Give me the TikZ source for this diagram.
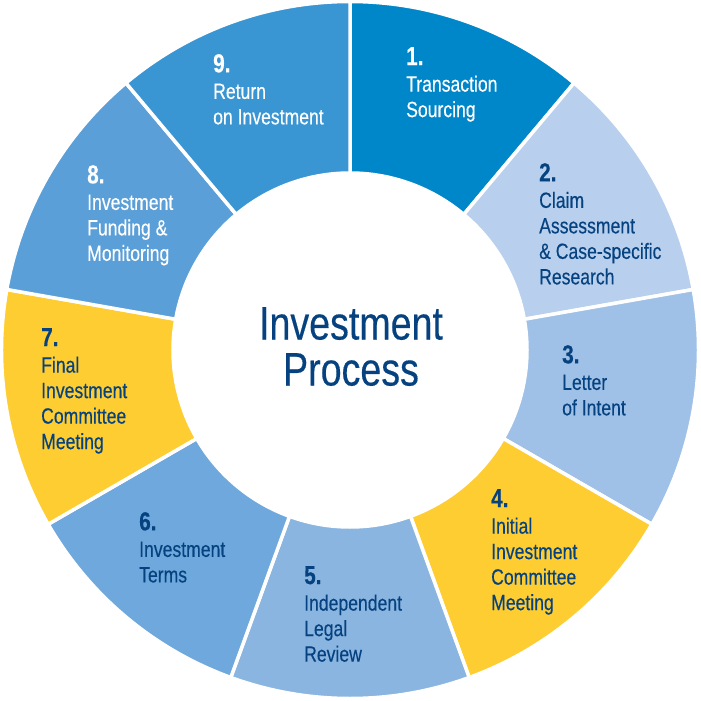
\documentclass[tikz,border=0pt]{standalone}
\usepackage{fontspec}
\newfontfamily\condfont[FakeStretch=0.8, FakeBold=0.3]{Liberation Sans}
\definecolor{seg1}{HTML}{0087CA}
\definecolor{seg2}{HTML}{B8D0ED}
\definecolor{seg3}{HTML}{9FC1E7}
\definecolor{seg4}{HTML}{FECD32}
\definecolor{seg5}{HTML}{8AB5E1}
\definecolor{seg6}{HTML}{6FA8DC}
\definecolor{seg7}{HTML}{FECD32}
\definecolor{seg8}{HTML}{5A9FD8}
\definecolor{seg9}{HTML}{3A95D3}
\definecolor{navy}{HTML}{05427F}
\newcommand\stepno[1]{{\fontsize{26}{25.5}\selectfont\bfseries #1}}
\begin{document}
\begin{tikzpicture}[x=1pt,y=1pt,
  segment/.style={draw=white, line width=3.5pt},
  steptext/.style={anchor=north west, align=left, inner sep=0pt, text=navy,
    font=\condfont\fontsize{22}{25.5}\selectfont},
  title/.style={anchor=north, align=center, inner sep=0pt, text=navy,
    font=\condfont\fontsize{47}{46}\selectfont}]

  \useasboundingbox (-350,-351) rectangle (351,350);

  % Ring segments, clockwise from the top
  \foreach \a/\c in {90/seg1, 50/seg2, 10/seg3, -30/seg4, -70/seg5,
                     -110/seg6, -150/seg7, -190/seg8, -230/seg9}
    \draw [segment, fill=\c] (\a:348.5) arc[start angle=\a, end angle=\a-40, radius=348.5]
      -- (\a-40:177) arc[start angle=\a-40, end angle=\a, radius=177] -- cycle;

  % Centre title
  \node [title] (title) at (1,43) {Investment\\Process};

  % Step texts
  \node [steptext, text=white] (s1) at (56,303) {\stepno{1.}\\[1pt]Transaction\\Sourcing};
  \node [steptext] (s2) at (189,187) {\stepno{2.}\\[1pt]Claim\\Assessment\\\& Case-specific\\Research};
  \node [steptext] (s3) at (212,5) {\stepno{3.}\\[1pt]Letter\\of Intent};
  \node [steptext] (s4) at (141,-139) {\stepno{4.}\\[1pt]Initial\\Investment\\Committee\\Meeting};
  \node [steptext] (s5) at (-46,-216) {\stepno{5.}\\[1pt]Independent\\Legal\\Review};
  \node [steptext] (s6) at (-211,-162) {\stepno{6.}\\[1pt]Investment\\Terms};
  \node [steptext] (s7) at (-309,22) {\stepno{7.}\\[1pt]Final\\Investment\\Committee\\Meeting};
  \node [steptext, text=white] (s8) at (-263,185) {\stepno{8.}\\[1pt]Investment\\Funding \&\\Monitoring};
  \node [steptext, text=white] (s9) at (-137,296) {\stepno{9.}\\[1pt]Return\\on Investment};

\end{tikzpicture}
\end{document}
